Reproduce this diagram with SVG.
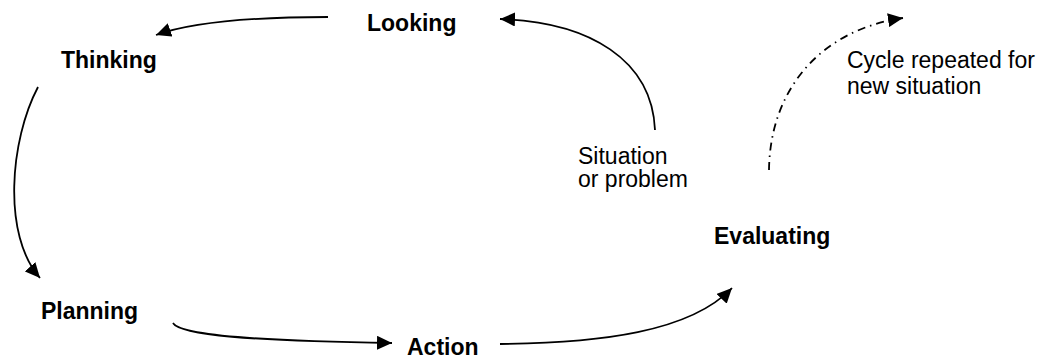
<svg xmlns="http://www.w3.org/2000/svg" width="1046" height="358" viewBox="0 0 1046 358">
<defs>
<style>
.b{font-family:"Liberation Sans",Arial,sans-serif;font-size:23px;font-weight:bold;fill:#000}
.r{font-family:"Liberation Sans",Arial,sans-serif;font-size:23px;fill:#000}
.c{fill:none;stroke:#000;stroke-width:1.8}
.dd{stroke-dasharray:8 5 1.5 5}
</style>
<marker id="ah" markerWidth="16" markerHeight="14" refX="15" refY="7" orient="auto" markerUnits="userSpaceOnUse">
<path d="M0,0 L15,7 L0,14 Z" fill="#000"/>
</marker>
</defs>
<rect width="1046" height="358" fill="#fff"/>
<g id="connectors">
<path class="c" d="M328,17 C260,17 195,21 156,35" marker-end="url(#ah)"/>
<path class="c" d="M38,87 C10,140 2,235 40,278" marker-end="url(#ah)"/>
<path class="c" d="M173,323 C180,335 250,341 392,343" marker-end="url(#ah)"/>
<path class="c" d="M500,344 C600,343 690,332 732,288" marker-end="url(#ah)"/>
<path class="c" d="M655,130 C652,60 590,22 500,19" marker-end="url(#ah)"/>
<path class="c dd" d="M769,170 C770,90 820,30 903,18" marker-end="url(#ah)"/>
</g>
<g id="looking"><text class="b" x="367" y="31">Looking</text></g>
<g id="thinking"><text class="b" x="61" y="68">Thinking</text></g>
<g id="planning"><text class="b" x="41" y="319">Planning</text></g>
<g id="action"><text class="b" x="407" y="355">Action</text></g>
<g id="evaluating"><text class="b" x="714" y="244">Evaluating</text></g>
<g id="situation"><text class="r" x="578" y="164">Situation</text><text class="r" x="578" y="187">or problem</text></g>
<g id="cycle"><text class="r" x="847" y="68">Cycle repeated for</text><text class="r" x="847" y="94">new situation</text></g>
</svg>
